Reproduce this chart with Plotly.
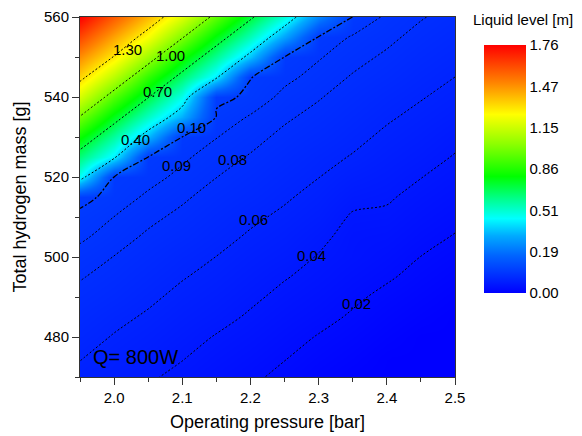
import numpy as np
import plotly.graph_objects as go

# ---------------- data ----------------
pressure = [1.95, 2.00, 2.05, 2.10, 2.15, 2.20, 2.25, 2.30, 2.35, 2.40, 2.45, 2.50]
mass = [470, 475, 480, 485, 490, 495, 500, 505, 510, 515,
        520, 525, 530, 535, 540, 545, 550, 555, 560]

# liquid level [m] along each pressure column, bottom (470 g) to top (560 g)
lvl_195 = [0.056, 0.061, 0.066, 0.071, 0.076, 0.081, 0.086, 0.092, 0.097, 0.104,
           0.454, 0.635, 0.814, 0.993, 1.169, 1.337, 1.478, 1.619, 1.760]
lvl_200 = [0.049, 0.054, 0.059, 0.064, 0.070, 0.075, 0.0797, 0.085, 0.0899, 0.096,
           0.099, 0.420, 0.581, 0.761, 0.939, 1.116, 1.293, 1.435, 1.577]
lvl_205 = [0.042, 0.048, 0.053, 0.058, 0.063, 0.068, 0.073, 0.078, 0.083, 0.088,
           0.094, 0.0995, 0.336, 0.527, 0.707, 0.886, 1.064, 1.240, 1.393]
lvl_210 = [0.036, 0.041, 0.046, 0.051, 0.056, 0.061, 0.066, 0.072, 0.077, 0.082,
           0.087, 0.092, 0.099, 0.320, 0.472, 0.653, 0.832, 1.011, 1.187]
lvl_215 = [0.029, 0.034, 0.039, 0.045, 0.050, 0.055, 0.0598, 0.065, 0.070, 0.075,
           0.0802, 0.085, 0.0904, 0.097, 0.1045, 0.418, 0.599, 0.779, 0.957]
lvl_220 = [0.023, 0.028, 0.033, 0.038, 0.043, 0.048, 0.053, 0.058, 0.063, 0.069,
           0.074, 0.079, 0.084, 0.089, 0.097, 0.1005, 0.357, 0.545, 0.725]
lvl_225 = [0.016, 0.021, 0.026, 0.031, 0.036, 0.041, 0.047, 0.052, 0.057, 0.062,
           0.067, 0.072, 0.077, 0.082, 0.087, 0.093, 0.099, 0.293, 0.490]
lvl_230 = [0.009, 0.014, 0.019, 0.025, 0.030, 0.035, 0.039, 0.044, 0.050, 0.055,
           0.0603, 0.065, 0.071, 0.076, 0.081, 0.086, 0.091, 0.097, 0.229]
lvl_235 = [0.003, 0.008, 0.013, 0.018, 0.023, 0.028, 0.033, 0.034, 0.038, 0.045,
           0.052, 0.059, 0.064, 0.069, 0.074, 0.079, 0.084, 0.089, 0.099]
lvl_240 = [0.000, 0.001, 0.006, 0.011, 0.016, 0.022, 0.027, 0.032, 0.037, 0.042,
           0.047, 0.052, 0.057, 0.062, 0.067, 0.073, 0.078, 0.083, 0.088]
lvl_245 = [0.000, 0.000, 0.000, 0.005, 0.010, 0.015, 0.0198, 0.025, 0.030, 0.035,
           0.0404, 0.046, 0.051, 0.056, 0.061, 0.066, 0.071, 0.076, 0.081]
lvl_250 = [0.000, 0.000, 0.000, 0.000, 0.004, 0.009, 0.014, 0.019, 0.024, 0.029,
           0.034, 0.039, 0.044, 0.050, 0.055, 0.060, 0.065, 0.070, 0.075]

# colour-bar tick values (equally spaced on the bar)
cbar_ticks = [0.00, 0.19, 0.51, 0.86, 1.15, 1.47, 1.76]

# contour levels
levels_low = [0.02, 0.04, 0.06, 0.08]
level_09 = 0.09
level_10 = 0.10
levels_high = [0.40, 0.70, 1.00, 1.30]

# contour label placement (pressure, mass) and values
label_vals = [1.30, 1.00, 0.70, 0.40, 0.10, 0.09, 0.08, 0.06, 0.04, 0.02]
label_pos = [(2.019, 552.0), (2.082, 550.5), (2.063, 541.5), (2.032, 529.3),
             (2.114, 532.3), (2.091, 523.0), (2.173, 524.3), (2.204, 509.3),
             (2.290, 500.5), (2.355, 488.5)]

# ---------------- figure ----------------
cols = [lvl_195, lvl_200, lvl_205, lvl_210, lvl_215, lvl_220,
        lvl_225, lvl_230, lvl_235, lvl_240, lvl_245, lvl_250]
Z = np.array(cols).T  # shape (len(mass), len(pressure))

# map level onto the (non-linear) colour bar position
cpos = np.arange(len(cbar_ticks))
T = np.interp(Z, cbar_ticks, cpos)

colorscale = [
    [0.000, "rgb(0,0,255)"],
    [0.150, "rgb(0,100,255)"],
    [0.230, "rgb(0,170,255)"],
    [0.300, "rgb(0,255,255)"],
    [0.380, "rgb(0,255,140)"],
    [0.470, "rgb(0,255,0)"],
    [0.600, "rgb(140,255,0)"],
    [0.720, "rgb(255,255,0)"],
    [0.850, "rgb(255,130,0)"],
    [1.000, "rgb(255,0,0)"],
]

font = "Arial, Liberation Sans"

fig = go.Figure()
fig.add_trace(go.Heatmap(
    x=pressure, y=mass, z=T, zsmooth="best", zmin=0, zmax=len(cbar_ticks) - 1,
    colorscale=colorscale, hoverinfo="skip",
    colorbar=dict(
        x=1.0773, xanchor="left", xpad=0, ypad=0,
        y=0.578, yanchor="middle",
        thickness=42, thicknessmode="pixels",
        len=248, lenmode="pixels",
        tickvals=list(cpos), ticktext=[f"{v:.2f}" for v in cbar_ticks],
        ticks="", outlinewidth=0,
        tickfont=dict(family=font, size=15, color="black"),
    ),
))


def add_lines(start, end, size, dash, width):
    fig.add_trace(go.Contour(
        x=pressure, y=mass, z=Z, autocontour=False,
        contours=dict(start=start, end=end, size=size, coloring="none",
                      showlabels=False),
        line=dict(color="black", width=width, dash=dash),
        showscale=False, hoverinfo="skip",
    ))


add_lines(levels_low[0], levels_low[-1] + 1e-4, levels_low[1] - levels_low[0],
          "2px,2px", 1)
add_lines(level_09, level_09 + 1e-4, 1.0, "2px,2px", 1)
add_lines(level_10, level_10 + 1e-4, 1.0, "6px,2px,2px,2px", 1.3)
add_lines(levels_high[0], levels_high[-1] + 1e-4, levels_high[1] - levels_high[0],
          "2px,2px", 1)

for v, (px, my) in zip(label_vals, label_pos):
    fig.add_annotation(x=px, y=my, text=f"{v:.2f}", showarrow=False,
                       xanchor="center", yanchor="middle",
                       font=dict(family=font, size=15, color="black"))

fig.add_annotation(x=2.032, y=475, text="Q= 800W", showarrow=False,
                   xanchor="center", yanchor="middle",
                   font=dict(family=font, size=20, color="black"))
fig.add_annotation(x=1.181, y=0.992, xref="paper", yref="paper",
                   text="Liquid level [m]", showarrow=False,
                   xanchor="center", yanchor="middle",
                   font=dict(family=font, size=15, color="black"))

axis_common = dict(
    showline=True, linecolor="#333333", linewidth=1, mirror=True,
    ticks="outside", ticklen=7, tickcolor="#333333", showgrid=False,
    zeroline=False, automargin=False,
    tickfont=dict(family=font, size=15, color="black"),
)
fig.update_xaxes(range=[1.95, 2.5], tick0=2.0, dtick=0.1, tickformat=".1f",
                 minor=dict(ticks="outside", ticklen=4, dtick=0.05, tick0=1.95,
                            tickcolor="#333333"),
                 title=dict(text="Operating pressure [bar]", standoff=10,
                            font=dict(family=font, size=18, color="black")),
                 **axis_common)
fig.update_yaxes(range=[470, 560], tick0=480, dtick=20,
                 minor=dict(ticks="outside", ticklen=4, dtick=10, tick0=470,
                            tickcolor="#333333"),
                 title=dict(text="Total hydrogen mass [g]", standoff=12,
                            font=dict(family=font, size=18, color="black")),
                 **axis_common)

# page body adds an 8px offset, so margins are shifted accordingly
fig.update_layout(
    width=574, height=428,
    margin=dict(l=72, r=127, t=9, b=59),
    paper_bgcolor="white", plot_bgcolor="white",
    showlegend=False,
)

fig.write_html("out.html")
